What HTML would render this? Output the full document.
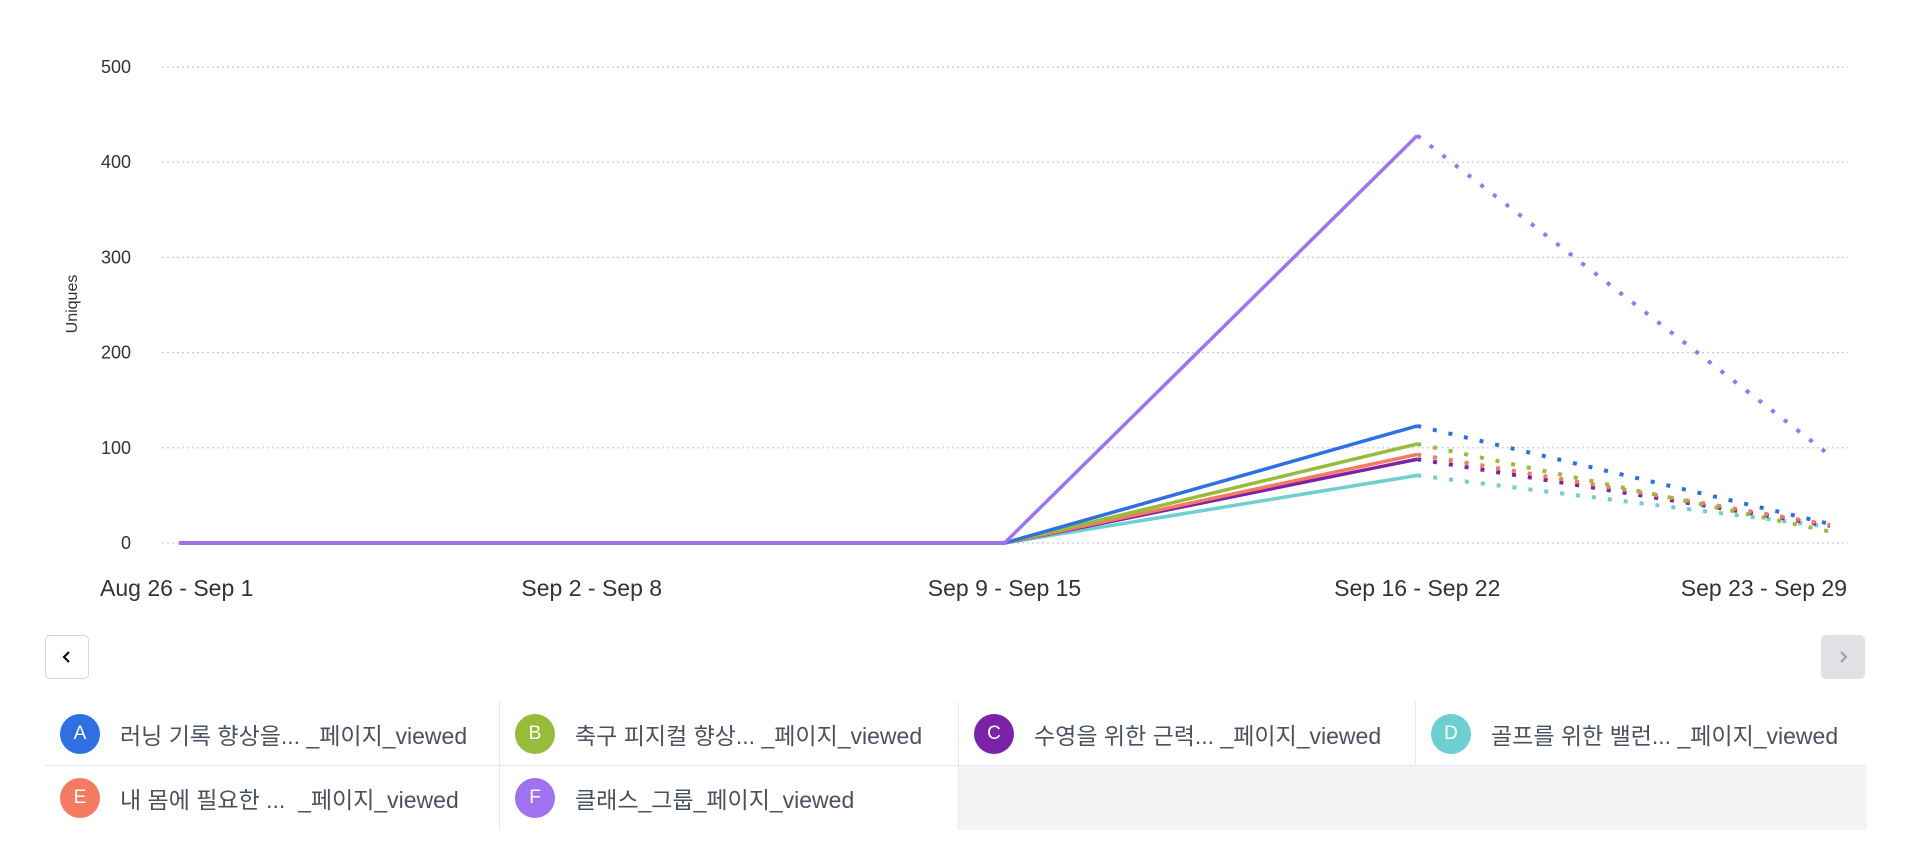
<!DOCTYPE html>
<html><head><meta charset="utf-8"><style>
body{margin:0;width:1908px;height:864px;background:#fff;font-family:"Liberation Sans","Noto Sans CJK KR",sans-serif;overflow:hidden;position:relative}
.btn{position:absolute;width:44px;height:44px;border-radius:5px;box-sizing:border-box;display:flex;align-items:center;justify-content:center}
.legend{position:absolute;left:45px;top:702px;width:1822px;display:grid;grid-template-columns:455px 459px 457px 451px;grid-template-rows:64px 64px}
.cell{display:flex;align-items:center;border-right:1px solid #e5e7eb;border-bottom:1px solid #e5e7eb;color:#4b5060;font-size:23px}
.dot{width:40px;height:40px;border-radius:50%;color:#fff;font-size:19px;display:flex;align-items:center;justify-content:center;margin:0 20px 0 15px}
</style></head><body>
<svg id="chart" width="1908" height="640" style="position:absolute;left:0;top:0"></svg>
<div class="btn" style="left:45px;top:635px;border:1.5px solid #d4d6db;background:#fff"><svg width="14" height="14"><path d="M9 2 L4 7 L9 12" stroke="#111" stroke-width="2.2" fill="none"/></svg></div>
<div class="btn" style="left:1821px;top:635px;background:#dfe1e5"><svg width="14" height="14"><path d="M5 2 L10 7 L5 12" stroke="#9a9ea6" stroke-width="2" fill="none"/></svg></div>
<div class="legend">
<div class="cell"><span class="dot" style="background:#2f6fe4">A</span>러닝 기록 향상을... _페이지_viewed</div>
<div class="cell"><span class="dot" style="background:#97bb3a">B</span>축구 피지컬 향상... _페이지_viewed</div>
<div class="cell"><span class="dot" style="background:#7a22a8">C</span>수영을 위한 근력... _페이지_viewed</div>
<div class="cell" style="border-right:none"><span class="dot" style="background:#6dd0d0">D</span>골프를 위한 밸런... _페이지_viewed</div>
<div class="cell" style="border-bottom:none"><span class="dot" style="background:#f47a62">E</span>내 몸에 필요한 ... &nbsp;_페이지_viewed</div>
<div class="cell" style="border-bottom:none"><span class="dot" style="background:#a172f0">F</span>클래스_그룹_페이지_viewed</div>
<div style="grid-column:3/5;background:#f3f4f6"></div>
</div>
<script>
const categories=["Aug 26 - Sep 1","Sep 2 - Sep 8","Sep 9 - Sep 15","Sep 16 - Sep 22","Sep 23 - Sep 29"];
const yTicks=[0,100,200,300,400,500];
const seriesNames=["A","B","C","D","E","F"];
const seriesColors=["#2f6fe4","#97bb3a","#7a22a8","#6dd0d0","#f47a62","#a172f0"];
const valuesA=[0,0,0,123,20];
const valuesB=[0,0,0,104,12];
const valuesC=[0,0,0,88,18];
const valuesD=[0,0,0,71,17];
const valuesE=[0,0,0,93,19];
const valuesF=[0,0,0,428,92];
const allValues=[valuesA,valuesB,valuesC,valuesD,valuesE,valuesF];
const NS="http://www.w3.org/2000/svg",svg=document.getElementById('chart');
const X0=179,X1=1830,Y0=543,Y1=67,L=162,R=1848;
const xs=i=>X0+(X1-X0)*i/(categories.length-1);
const ys=v=>Y0-(Y0-Y1)*v/500;
function mk(t,a){const e=document.createElementNS(NS,t);for(const k in a)e.setAttribute(k,a[k]);svg.appendChild(e);return e;}
yTicks.forEach(v=>{
const g=mk('line',{x1:L,x2:R,y1:ys(v),y2:ys(v),stroke:'#c8cacf','stroke-width':1.2,'stroke-dasharray':'2 3'});


const t=mk('text',{x:131,y:ys(v)+6,'text-anchor':'end','font-size':18,fill:'#333'});t.textContent=v;


});
const yt=mk('text',{x:77,y:304,'text-anchor':'middle','font-size':16,fill:'#333',transform:'rotate(-90 77 304)'});yt.textContent='Uniques';


categories.forEach((c,i)=>{
let anchor='middle',x=xs(i);
if(i==0){anchor='start';x=100;} if(i==categories.length-1){anchor='end';x=1847;}
const t=mk('text',{x:x,y:596,'text-anchor':anchor,'font-size':23,fill:'#333'});t.textContent=c;


});
const order=[3,2,4,1,0,5];
order.forEach(s=>{
const v=allValues[s],n=v.length;
let d='';for(let i=0;i<n-1;i++)d+=(i?'L':'M')+xs(i)+' '+ys(v[i]);
const p=mk('path',{d:d,stroke:seriesColors[s],'stroke-width':3.5,fill:'none','stroke-linejoin':'round'});


const q=mk('line',{x1:xs(n-2),y1:ys(v[n-2]),x2:xs(n-1),y2:ys(v[n-1]),stroke:seriesColors[s],'stroke-width':4,'stroke-dasharray':'4 12'});


});
</script>
</body></html>
